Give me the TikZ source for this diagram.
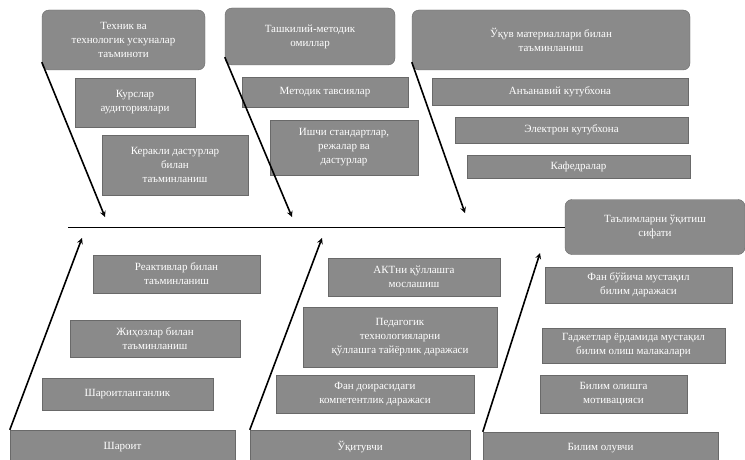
\documentclass[tikz,border=0pt]{standalone}
\usepackage{fontspec}
\setmainfont{Liberation Serif}
\definecolor{boxgray}{RGB}{138,138,138}
\definecolor{edgegray}{RGB}{105,105,105}
\tikzset{
  group/.style={fill=boxgray, draw=edgegray, rounded corners=7pt, text=white, align=center,
    font=\fontsize{11}{14}\selectfont, inner sep=2pt},
  cause/.style={fill=boxgray, draw=edgegray, text=white, align=center,
    font=\fontsize{11}{14}\selectfont, inner sep=2pt}
}
\begin{document}
\begin{tikzpicture}[x=1pt,y=-1pt,>=stealth]
\useasboundingbox (0,0) rectangle (745,460);

% top groups
\node (A) at (123.5,40) [group, minimum width=163pt, minimum height=60pt]{Техник ва\\ технологик ускуналар\\ таъминоти};
\node (A-1) at (135,102.5) [cause, minimum width=120pt, minimum height=49pt]{Курслар\\ аудиториялари};
\node (A-2) at (175,165) [cause, minimum width=146pt, minimum height=60pt]{Керакли дастурлар\\ билан\\ таъминланиш};

\node (B) at (310,36.5) [group, minimum width=170pt, minimum height=57pt]{Ташкилий-методик\\ омиллар};
\node (B-1) at (325,92) [cause, minimum width=166pt, minimum height=30pt]{Методик тавсиялар};
\node (B-2) at (344,147.5) [cause, minimum width=148pt, minimum height=55pt]{Ишчи стандартлар,\\ режалар ва\\ дастурлар};

\node (C) at (551,40) [group, minimum width=278pt, minimum height=60pt]{Ўқув материаллари билан\\ таъминланиш};
\node (C-1) at (560,91.5) [cause, minimum width=256pt, minimum height=27pt]{Анъанавий кутубхона};
\node (C-2) at (571.5,130) [cause, minimum width=233pt, minimum height=26pt]{Электрон кутубхона};
\node (C-3) at (578.5,166.5) [cause, minimum width=223pt, minimum height=23pt]{Кафедралар};

% head
\node (H) at (655,227) [group, minimum width=180pt, minimum height=55pt]{Таълимларни ўқитиш\\ сифати};

% bottom groups
\node (D) at (122.5,447.5) [group, rounded corners=0pt, minimum width=225pt, minimum height=35pt]{Шароит};
\node (D-1) at (176.5,274) [cause, minimum width=167pt, minimum height=38pt]{Реактивлар билан\\ таъминланиш};
\node (D-2) at (155,338.5) [cause, minimum width=170pt, minimum height=37pt]{Жиҳозлар билан\\ таъминланиш};
\node (D-3) at (127.5,394) [cause, minimum width=171pt, minimum height=32pt]{Шароитланганлик};

\node (E) at (360,447.5) [group, rounded corners=0pt, minimum width=220pt, minimum height=35pt]{Ўқитувчи};
\node (E-1) at (414,277) [cause, minimum width=172pt, minimum height=38pt]{АКТни қўллашга\\ мослашиш};
\node (E-2) at (400,337) [cause, minimum width=194pt, minimum height=60pt]{Педагогик\\ технологияларни\\ қўллашга тайёрлик даражаси};
\node (E-3) at (375,394) [cause, minimum width=198pt, minimum height=38pt]{Фан доирасидаги\\ компетентлик даражаси};

\node (F) at (600.5,448.5) [group, rounded corners=0pt, minimum width=235pt, minimum height=33pt]{Билим олувчи};
\node (F-1) at (638.5,285) [cause, minimum width=187pt, minimum height=36pt]{Фан бўйича мустақил\\ билим даражаси};
\node (F-2) at (633.5,345.5) [cause, minimum width=183pt, minimum height=35pt]{Гаджетлар ёрдамида мустақил\\ билим олиш малакалари};
\node (F-3) at (613.5,394) [cause, minimum width=147pt, minimum height=38pt]{Билим олишга\\ мотивацияси};

% spine and bones
\coordinate (S) at (68,227);
\coordinate (a) at (105,217);
\coordinate (b) at (292,217);
\coordinate (c) at (465,213);
\coordinate (d) at (82,238);
\coordinate (e) at (322,238);
\coordinate (f) at (540,253);

\draw [thick] (S) -- (H.west);

\draw [->, line width=1.6pt] ([yshift=8pt]A.south west) -- (a);
\draw [->, line width=1.6pt] ([yshift=8pt]B.south west) -- (b);
\draw [->, line width=1.6pt] ([yshift=8pt]C.south west) -- (c);

\draw [->, line width=1.6pt] (D.north west) -- (d);
\draw [->, line width=1.6pt] (E.north west) -- (e);
\draw [->, line width=1.6pt] (F.north west) -- (f);

\end{tikzpicture}
\end{document}
